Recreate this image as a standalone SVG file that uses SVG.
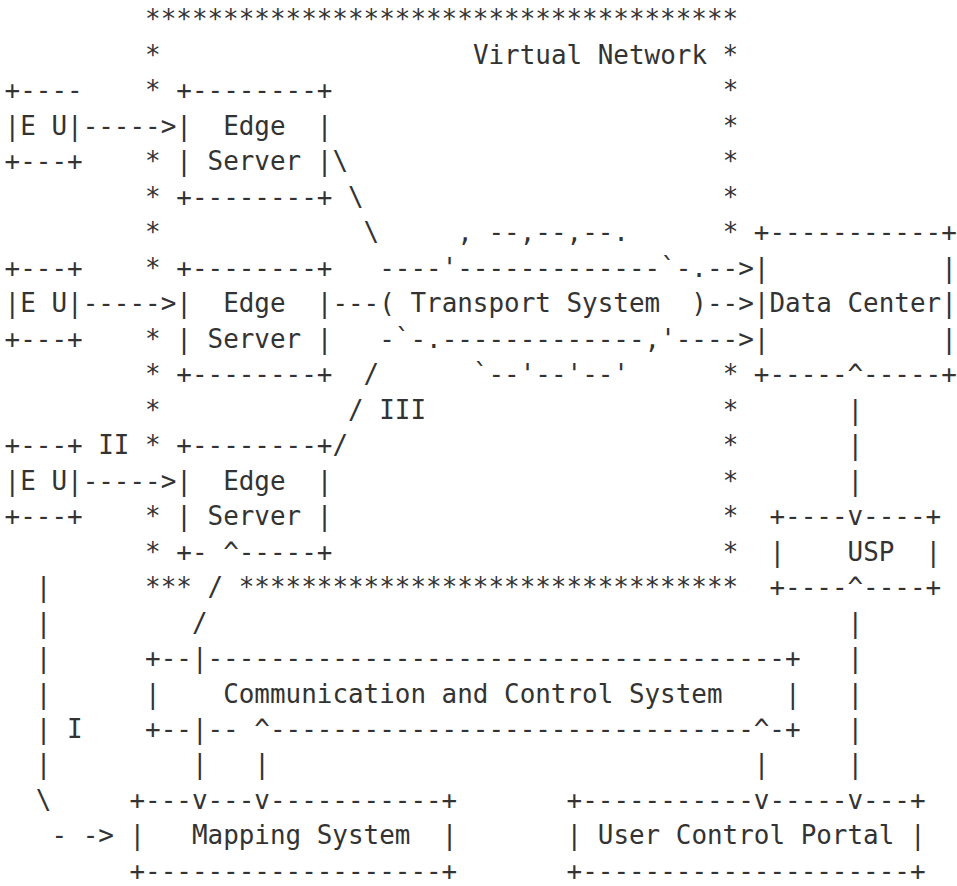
<svg xmlns="http://www.w3.org/2000/svg" width="957" height="886" viewBox="0 0 957 886" xml:space="preserve">
  <style>
    text { font-family: "DejaVu Sans Mono", "Liberation Mono", monospace; font-size: 25.93px; fill: #333333; white-space: pre; }
  </style>
  <rect x="0" y="0" width="957" height="886" fill="#ffffff"/>

  <g transform="translate(-2.6,0)">
  <!-- Virtual network boundary (asterisk frame) -->
  <g id="virtual-network">
    <text x="147.69" y="28.4">**************************************</text>
    <text x="147.69" y="63.88">*</text>
    <text x="475.5" y="63.88">Virtual Network *</text>
    <text x="147.69" y="99.36">*</text><text x="725.26" y="99.36">*</text>
    <text x="725.26" y="134.84">*</text>
    <text x="147.69" y="170.32">*</text><text x="725.26" y="170.32">*</text>
    <text x="147.69" y="205.8">*</text><text x="725.26" y="205.8">*</text>
    <text x="147.69" y="241.27">*</text><text x="725.26" y="241.27">*</text>
    <text x="147.69" y="276.75">*</text>
    <text x="147.69" y="347.71">*</text>
    <text x="147.69" y="383.19">*</text><text x="725.26" y="383.19">*</text>
    <text x="147.69" y="418.67">*</text><text x="725.26" y="418.67">*</text>
    <text x="147.69" y="454.15">*</text><text x="725.26" y="454.15">*</text>
    <text x="725.26" y="489.63">*</text>
    <text x="147.69" y="525.11">*</text><text x="725.26" y="525.11">*</text>
    <text x="147.69" y="560.59">*</text><text x="725.26" y="560.59">*</text>
    <text x="147.69" y="596.06">***</text>
    <text x="241.35" y="596.06">********************************</text>
  </g>

  <!-- End users -->
  <g id="eu-1">
    <text x="7.2" y="99.36">+----</text>
    <text x="7.2" y="134.84">|E U|</text>
    <text x="7.2" y="170.32">+---+</text>
  </g>
  <g id="eu-2">
    <text x="7.2" y="276.75">+---+</text>
    <text x="7.2" y="312.23">|E U|</text>
    <text x="7.2" y="347.71">+---+</text>
  </g>
  <g id="eu-3">
    <text x="7.2" y="454.15">+---+</text>
    <text x="7.2" y="489.63">|E U|</text>
    <text x="7.2" y="525.11">+---+</text>
  </g>

  <!-- Edge servers -->
  <g id="edge-server-1">
    <text x="178.91" y="99.36">+--------+</text>
    <text x="178.91" y="134.84">|  Edge  |</text>
    <text x="178.91" y="170.32">| Server |</text>
    <text x="178.91" y="205.8">+--------+</text>
  </g>
  <g id="edge-server-2">
    <text x="178.91" y="276.75">+--------+</text>
    <text x="178.91" y="312.23">|  Edge  |</text>
    <text x="178.91" y="347.71">| Server |</text>
    <text x="178.91" y="383.19">+--------+</text>
  </g>
  <g id="edge-server-3">
    <text x="178.91" y="454.15">+--------+</text>
    <text x="178.91" y="489.63">|  Edge  |</text>
    <text x="178.91" y="525.11">| Server |</text>
    <text x="178.91" y="560.59">+-</text>
    <text x="241.35" y="560.59">-----+</text>
  </g>

  <!-- Transport system cloud -->
  <g id="transport-system">
    <text x="459.89" y="241.27">, --,--,--.</text>
    <text x="381.84" y="276.75">----'-------------`-.--></text>
    <text x="335.01" y="312.23">---( Transport System  )--></text>
    <text x="381.84" y="347.71">-`-.-------------,'----></text>
    <text x="475.5" y="383.19">`--'--'--'</text>
  </g>

  <!-- Data center -->
  <g id="data-center">
    <text x="756.48" y="241.27">+-----------+</text>
    <text x="756.48" y="276.75">|</text><text x="943.8" y="276.75">|</text>
    <text x="756.48" y="312.23">|Data Center|</text>
    <text x="756.48" y="347.71">|</text><text x="943.8" y="347.71">|</text>
    <text x="756.48" y="383.19">+-----^-----+</text>
  </g>

  <!-- USP -->
  <g id="usp">
    <text x="772.09" y="525.11">+----v----+</text>
    <text x="772.09" y="560.59">|</text>
    <text x="850.14" y="560.59">USP</text>
    <text x="928.19" y="560.59">|</text>
    <text x="772.09" y="596.06">+----^----+</text>
  </g>

  <!-- Communication and control system -->
  <g id="communication-control-system">
    <text x="147.69" y="667.02">+--|-------------------------------------+</text>
    <text x="147.69" y="702.5">|</text>
    <text x="225.74" y="702.5">Communication and Control System</text>
    <text x="787.7" y="702.5">|</text>
    <text x="147.69" y="737.98">+--|-- ^-------------------------------^-+</text>
  </g>

  <!-- Mapping system -->
  <g id="mapping-system">
    <text x="132.08" y="808.94">+---v---v-----------+</text>
    <text x="132.08" y="844.42">|</text>
    <text x="194.52" y="844.42">Mapping System</text>
    <text x="444.28" y="844.42">|</text>
    <text x="132.08" y="879.9">+-------------------+</text>
  </g>

  <!-- User control portal -->
  <g id="user-control-portal">
    <text x="569.16" y="808.94">+-----------v-----v---+</text>
    <text x="569.16" y="844.42">| User Control Portal |</text>
    <text x="569.16" y="879.9">+---------------------+</text>
  </g>

  <!-- Connectors and interface labels -->
  <g id="connectors">
    <!-- end users to edge servers -->
    <text x="85.25" y="134.84">-----></text>
    <text x="85.25" y="312.23">-----></text>
    <text x="85.25" y="489.63">-----></text>
    <!-- edge servers to transport system -->
    <text x="335.01" y="170.32">\</text>
    <text x="350.62" y="205.8">\</text>
    <text x="366.23" y="241.27">\</text>
    <text x="366.23" y="383.19">/</text>
    <text x="350.62" y="418.67">/</text>
    <text x="381.84" y="418.67">III</text>
    <text x="335.01" y="454.15">/</text>
    <!-- data center to USP -->
    <text x="850.14" y="418.67">|</text>
    <text x="850.14" y="454.15">|</text>
    <text x="850.14" y="489.63">|</text>
    <!-- USP to user control portal -->
    <text x="850.14" y="631.54">|</text>
    <text x="850.14" y="667.02">|</text>
    <text x="850.14" y="702.5">|</text>
    <text x="850.14" y="737.98">|</text>
    <text x="850.14" y="773.46">|</text>
    <!-- edge server to control system -->
    <text x="225.74" y="560.59">^</text>
    <text x="210.13" y="596.06">/</text>
    <text x="194.52" y="631.54">/</text>
    <!-- control system to mapping system and portal -->
    <text x="194.52" y="773.46">|</text>
    <text x="256.96" y="773.46">|</text>
    <text x="756.48" y="773.46">|</text>
    <!-- end user to mapping system -->
    <text x="100.86" y="454.15">II</text>
    <text x="38.42" y="596.06">|</text>
    <text x="38.42" y="631.54">|</text>
    <text x="38.42" y="667.02">|</text>
    <text x="38.42" y="702.5">|</text>
    <text x="38.42" y="737.98">| I</text>
    <text x="38.42" y="773.46">|</text>
    <text x="38.42" y="808.94">\</text>
    <text x="54.03" y="844.42">- -></text>
  </g>
  </g>
</svg>
